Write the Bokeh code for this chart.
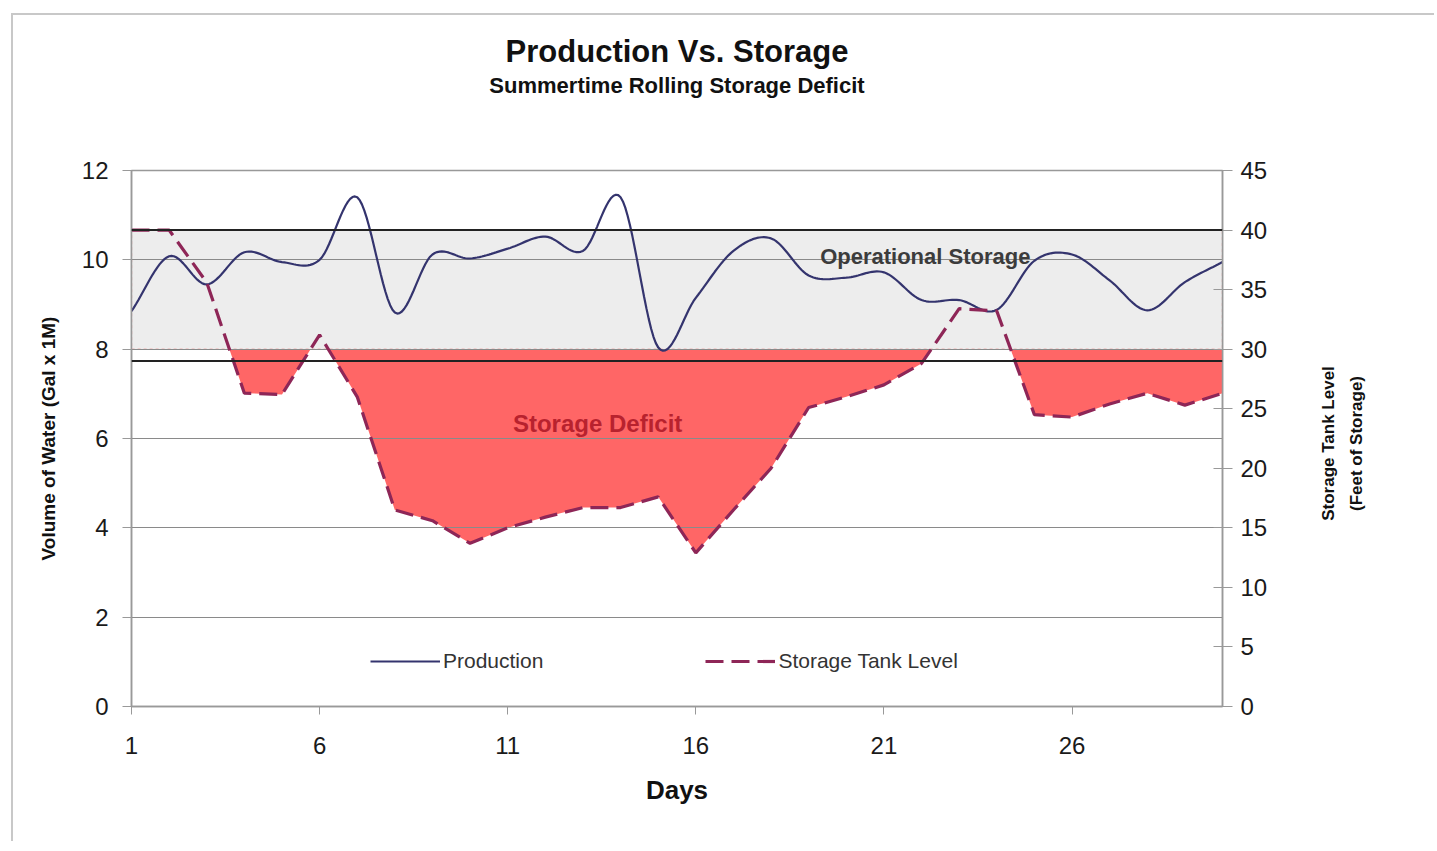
import numpy as np
from bokeh.plotting import figure
from bokeh.layouts import row
from bokeh.models import (Range1d, LinearAxis, Span, Label, Legend, LegendItem,
                          FixedTicker, Title)
from bokeh.embed import file_html
from bokeh.resources import INLINE

# ---------------- data ----------------
days = list(range(1, 31))
production = [8.85, 10.08, 9.45, 10.17, 9.95, 10.0, 11.4, 8.82, 10.12, 10.03,
              10.25, 10.52, 10.2, 11.4, 8.04, 9.15, 10.2, 10.48, 9.65, 9.6,
              9.72, 9.1, 9.1, 8.88, 9.98, 10.12, 9.54, 8.87, 9.5, 9.95]
storage_level = [40, 40, 35.6, 26.3, 26.2, 31.2, 26.0, 16.5, 15.6, 13.7,
                 15.0, 15.9, 16.7, 16.7, 17.6, 12.9, 16.5, 20.0, 25.1, 26.0,
                 27.0, 28.8, 33.4, 33.2, 24.5, 24.3, 25.4, 26.3, 25.3, 26.3]
operational_min = 30     # ft
operational_max = 40     # ft
reference_levels = [40, 29]  # ft
x_ticks = [1, 6, 11, 16, 21, 26]
left_ticks = [0, 2, 4, 6, 8, 10, 12]
right_ticks = [0, 5, 10, 15, 20, 25, 30, 35, 40, 45]

FONT = "Liberation Sans"

# layout sizes (px)
BORDER_L, BORDER_T, BORDER_R, BORDER_B = 118, 155, 60, 135
FRAME_W, FRAME_H = 1091, 536
SIDE_W = 152


def smooth(xv, yv, n=16):
    xv = np.asarray(xv, float)
    yv = np.asarray(yv, float)
    px = np.concatenate([[2 * xv[0] - xv[1]], xv, [2 * xv[-1] - xv[-2]]])
    py = np.concatenate([[2 * yv[0] - yv[1]], yv, [2 * yv[-1] - yv[-2]]])
    t = np.linspace(0, 1, n, endpoint=False)
    ox, oy = [], []
    for i in range(1, len(px) - 2):
        for arr, out in ((px, ox), (py, oy)):
            p0, p1, p2, p3 = arr[i - 1:i + 3]
            out.extend(0.5 * (2 * p1 + (-p0 + p2) * t
                              + (2 * p0 - 5 * p1 + 4 * p2 - p3) * t ** 2
                              + (-p0 + 3 * p1 - 3 * p2 + p3) * t ** 3))
    ox.append(xv[-1])
    oy.append(yv[-1])
    return ox, oy


def deficit_area(xv, yv, thr):
    xs, ys = [], []
    for i in range(len(xv)):
        if i > 0:
            a, b = yv[i - 1], yv[i]
            if (a - thr) * (b - thr) < 0:
                xc = xv[i - 1] + (thr - a) / (b - a) * (xv[i] - xv[i - 1])
                xs.append(xc)
                ys.append(thr)
        xs.append(xv[i])
        ys.append(min(yv[i], thr))
    return xs, ys


p = figure(title=None, frame_width=FRAME_W, frame_height=FRAME_H,
           min_border_left=BORDER_L, min_border_top=BORDER_T,
           min_border_right=BORDER_R, min_border_bottom=BORDER_B,
           x_range=Range1d(days[0], days[-1]), y_range=Range1d(0, 12),
           output_backend="svg", toolbar_location=None,
           background_fill_color="white", border_fill_color="white")
p.extra_y_ranges = {"ft": Range1d(0, 45)}
p.outline_line_color = "#999999"
p.outline_line_width = 1.5

# grids
p.xgrid.visible = False
p.ygrid.ticker = FixedTicker(ticks=left_ticks)
p.ygrid.grid_line_color = "#8a8a8a"
p.ygrid.grid_line_width = 1

# axes
for ax in (p.xaxis[0], p.yaxis[0]):
    ax.axis_line_color = "#999999"
    ax.axis_line_width = 1.5
    ax.major_tick_line_color = "#999999"
    ax.minor_tick_line_color = None
    ax.major_label_text_font = FONT
    ax.major_label_text_font_size = "24px"
    ax.major_label_text_color = "#1a1a1a"
    ax.axis_label_text_font = FONT
    ax.axis_label_text_font_style = "bold"
    ax.axis_label_text_color = "#111111"

p.xaxis.ticker = FixedTicker(ticks=x_ticks)
p.xaxis.major_tick_in = 0
p.xaxis.major_tick_out = 8
p.xaxis.major_label_standoff = 22
p.xaxis.axis_label = "Days"
p.xaxis.axis_label_text_font_size = "26px"
p.xaxis.axis_label_standoff = 18

p.yaxis.ticker = FixedTicker(ticks=left_ticks)
p.yaxis.major_tick_in = 0
p.yaxis.major_tick_out = 9
p.yaxis.major_label_standoff = 14
p.yaxis.axis_label = "Volume of Water (Gal x 1M)"
p.yaxis.axis_label_text_font_size = "19px"
p.yaxis.axis_label_standoff = 20

rax = LinearAxis(y_range_name="ft", ticker=FixedTicker(ticks=right_ticks))
rax.axis_line_color = "#999999"
rax.axis_line_width = 1.5
rax.major_tick_line_color = "#999999"
rax.minor_tick_line_color = None
rax.major_tick_in = 9
rax.major_tick_out = 10
rax.major_label_standoff = 8
rax.major_label_text_font = FONT
rax.major_label_text_font_size = "24px"
rax.major_label_text_color = "#1a1a1a"
p.add_layout(rax, "right")

# operational storage band
p.quad(left=days[0], right=days[-1], bottom=operational_min, top=operational_max,
       y_range_name="ft", fill_color="#EDEDED", line_color="#F0B0B0",
       line_dash="3 3", line_width=1.5, level="image")

# storage deficit area
dx, dy = deficit_area(days, storage_level, operational_min)
p.varea(x=dx, y1=dy, y2=[operational_min] * len(dx), y_range_name="ft",
        fill_color="#FF6666", level="image")

for lvl in reference_levels:
    p.add_layout(Span(location=lvl, dimension="width", y_range_name="ft",
                      line_color="#222222", line_width=2))

sx, sy = smooth(days, production)
prod_r = p.line(sx, sy, line_color="#34346E", line_width=2.2)
stor_r = p.line(days, storage_level, y_range_name="ft", line_color="#8E2657",
                line_width=3.2, line_dash="18 8")

legend = Legend(items=[LegendItem(label="Production", renderers=[prod_r]),
                       LegendItem(label="Storage Tank Level", renderers=[stor_r])],
                orientation="horizontal", location=(239, 33),
                glyph_width=70, glyph_height=20, label_standoff=3, spacing=162,
                padding=0, margin=0, border_line_alpha=0,
                background_fill_alpha=0, label_text_font=FONT,
                label_text_font_size="21px", label_text_color="#333333",
                label_height=20)
p.add_layout(legend)

p.add_layout(Label(x=22.1, y=10.07, text="Operational Storage",
                   text_align="center", text_baseline="middle",
                   text_font=FONT, text_font_size="22px",
                   text_font_style="bold", text_color="#3c3c3c"))
p.add_layout(Label(x=13.39, y=6.34, text="Storage Deficit",
                   text_align="center", text_baseline="middle",
                   text_font=FONT, text_font_size="24px",
                   text_font_style="bold", text_color="#B8222E"))

spacer = Title(text=" ", text_font_size="10px", standoff=58)
sub = Title(text="Summertime Rolling Storage Deficit", align="center",
            text_font=FONT, text_font_size="22px", text_font_style="bold",
            text_color="#111111", standoff=4)
main = Title(text="Production Vs. Storage", align="center",
             text_font=FONT, text_font_size="31px", text_font_style="bold",
             text_color="#111111", standoff=0)
p.add_layout(spacer, "above")
p.add_layout(sub, "above")
p.add_layout(main, "above")

# side panel carrying the right-axis title (reads bottom to top);
# its frame is aligned with the main frame by the row layout
side = figure(frame_width=SIDE_W, frame_height=FRAME_H,
              x_range=Range1d(0, SIDE_W), y_range=Range1d(0, FRAME_H),
              x_axis_location=None, y_axis_location=None, min_border=0,
              output_backend="svg", toolbar_location=None,
              background_fill_color="white", border_fill_color="white")
side.outline_line_color = None
side.grid.visible = False
side.add_layout(Label(x=60, y=FRAME_H / 2 - 5,
                      text="Storage Tank Level\n(Feet of Storage)",
                      angle=float(np.pi / 2), text_align="center",
                      text_baseline="middle", text_font=FONT,
                      text_font_size="17px", text_font_style="bold",
                      text_line_height=1.5, text_color="#111111"))

layout = row(p, side, spacing=0,
             styles={"border-left": "2px solid #c8c8c8",
                     "border-top": "2px solid #c8c8c8",
                     "margin-left": "11px", "margin-top": "13px"})

open("out.html", "w").write(file_html(layout, INLINE))
